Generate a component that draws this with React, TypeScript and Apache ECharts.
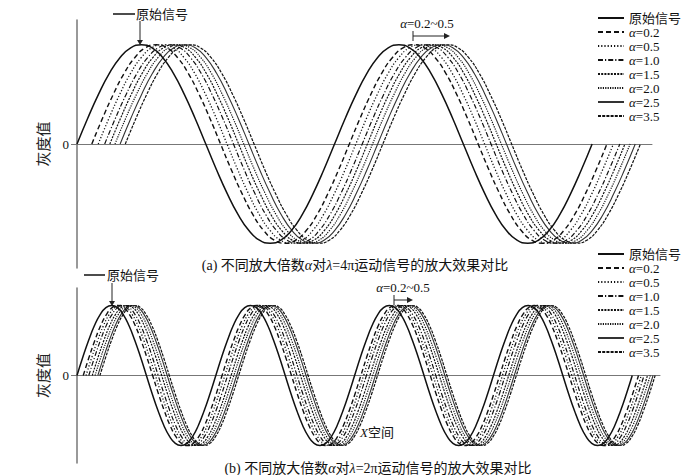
import React, { useEffect, useRef } from "react";
import * as echarts from "echarts";

// ---- data ----
const seriesNames = ["原始信号", "α=0.2", "α=0.5", "α=1.0", "α=1.5", "α=2.0", "α=2.5", "α=3.5"];
// one period of the grey-level waveform (24 samples)
const waveShape = [
  0, 0.26, 0.5, 0.71, 0.87, 0.97, 1, 0.97, 0.87, 0.71, 0.5, 0.26,
  0, -0.26, -0.5, -0.71, -0.87, -0.97, -1, -0.97, -0.87, -0.71, -0.5, -0.26,
];
// x in units of π
const topPeriod = 4; // λ = 4π
const topCycles = 2;
const bottomPeriod = 2; // λ = 2π
const bottomCycles = 4;
// horizontal displacement of each magnified curve (units of π)
const topShifts = [0, 0.23, 0.33, 0.43, 0.51, 0.59, 0.67, 0.75];
const bottomShifts = [0, 0.09, 0.13, 0.17, 0.22, 0.26, 0.3, 0.33];
const yTicks = [0];

const FONT = "'Liberation Serif', 'Times New Roman', 'Noto Sans CJK SC', serif";

const lineStyles: any[] = [
  { type: "solid", width: 1.5, color: "#111" },
  { type: [5, 3], width: 1.4, color: "#111" },
  { type: [1.2, 2], width: 1.3, color: "#111" },
  { type: [5, 2, 1.2, 2], width: 1.2, color: "#111" },
  { type: [2, 1.2], width: 1.2, color: "#111" },
  { type: [1.2, 1.2], width: 1.2, color: "#111" },
  { type: "solid", width: 1.1, color: "#333" },
  { type: [3, 1.2], width: 1.2, color: "#111" },
];

function buildCurve(shift: number, period: number, cycles: number) {
  const pts: number[][] = [];
  const n = waveShape.length;
  for (let c = 0; c < cycles; c++) {
    for (let k = 0; k < n; k++) {
      pts.push([shift + c * period + (k * period) / n, waveShape[k]]);
    }
  }
  pts.push([shift + cycles * period, waveShape[0]]);
  return pts;
}

const legendFormatter = (name: string) =>
  name.startsWith("α") ? `{i|α}{n|${name.slice(1)}}` : `{n|${name}}`;

const richText = {
  i: { fontStyle: "italic", fontSize: 13, fontFamily: FONT, color: "#111", lineHeight: 14 },
  n: { fontSize: 13, fontFamily: FONT, color: "#111", lineHeight: 14 },
};

function makeLegend(top: number) {
  return {
    orient: "vertical",
    left: 592,
    top,
    itemWidth: 26,
    itemHeight: 14,
    itemGap: 0,
    selectedMode: false,
    data: seriesNames,
    formatter: legendFormatter,
    itemStyle: { opacity: 0, borderWidth: 0 },
    textStyle: { fontSize: 13, fontFamily: FONT, color: "#111", lineHeight: 14, rich: richText },
  };
}

function makeYAxis(gridIndex: number) {
  return {
    type: "value",
    gridIndex,
    min: -1.25,
    max: 1.25,
    interval: 1.25,
    name: "灰度值",
    nameLocation: "middle",
    nameGap: 12,
    nameTextStyle: { fontFamily: FONT, fontSize: 15, color: "#222" },
    axisLine: { show: true, lineStyle: { color: "#777", width: 1.5 } },
    axisTick: { show: true, length: 6, customValues: yTicks, lineStyle: { color: "#777" } },
    axisLabel: { show: true, customValues: yTicks, fontFamily: FONT, fontSize: 13, color: "#111", margin: 8 },
    splitLine: { show: false },
  };
}

function makeXAxis(gridIndex: number, max: number) {
  return {
    type: "value",
    gridIndex,
    min: 0,
    max,
    axisLine: { show: true, onZero: true, lineStyle: { color: "#777", width: 1 } },
    axisTick: { show: false },
    axisLabel: { show: false },
    splitLine: { show: false },
  };
}

function arrowDown(x: number, y1: number, y2: number) {
  return [
    { type: "line", shape: { x1: x, y1, x2: x, y2: y2 - 4 }, style: { stroke: "#222", lineWidth: 1 } },
    { type: "polygon", shape: { points: [[x - 3, y2 - 5], [x + 3, y2 - 5], [x, y2]] }, style: { fill: "#222" } },
  ];
}

function rangeArrow(x1: number, x2: number, y: number) {
  return [
    { type: "line", shape: { x1, y1: y - 5, x2: x1, y2: y + 5 }, style: { stroke: "#222", lineWidth: 1 } },
    { type: "line", shape: { x1, y1: y, x2: x2 - 4, y2: y }, style: { stroke: "#222", lineWidth: 1 } },
    { type: "polygon", shape: { points: [[x2 - 6, y - 3], [x2 - 6, y + 3], [x2, y]] }, style: { fill: "#222" } },
  ];
}

function textEl(x: number, y: number, text: string, align: string, fontSize = 13) {
  return {
    type: "text",
    x,
    y,
    style: {
      text,
      align,
      verticalAlign: "middle",
      fontFamily: FONT,
      fontSize,
      fill: "#111",
      rich: {
        i: { fontStyle: "italic", fontSize, fontFamily: FONT, fill: "#111" },
        n: { fontSize, fontFamily: FONT, fill: "#111" },
      },
    },
  };
}

export default function App() {
  const ref = useRef<HTMLDivElement>(null);
  useEffect(() => {
    if (!ref.current) return;
    const chart = echarts.init(ref.current, null, { renderer: "svg" });

    const series: any[] = [];
    const addSeries = (axis: number, shifts: number[], period: number, cycles: number) => {
      seriesNames.forEach((name, i) => {
        series.push({
          name,
          type: "line",
          xAxisIndex: axis,
          yAxisIndex: axis,
          data: buildCurve(shifts[i], period, cycles),
          symbol: "none",
          showSymbol: false,
          smooth: true,
          silent: true,
          lineStyle: lineStyles[i],
          itemStyle: { color: lineStyles[i].color, opacity: 0 },
          z: 10 - i,
        });
      });
    };
    addSeries(0, topShifts, topPeriod, topCycles);
    addSeries(1, bottomShifts, bottomPeriod, bottomCycles);

    const graphic: any[] = [
      // top panel annotations
      { type: "line", shape: { x1: 113, y1: 14, x2: 135, y2: 14 }, style: { stroke: "#111", lineWidth: 1.5 } },
      textEl(136, 14, "原始信号", "left"),
      ...arrowDown(140, 21, 45),
      textEl(427, 23, "{i|α}{n|=0.2~0.5}", "center"),
      ...rangeArrow(413, 450, 36),
      textEl(355, 265, "{n|(a) 不同放大倍数}{i|α}{n|对}{i|λ}{n|=4π运动信号的放大效果对比}", "center", 14),
      // bottom panel annotations
      { type: "line", shape: { x1: 84, y1: 275, x2: 105, y2: 275 }, style: { stroke: "#111", lineWidth: 1.5 } },
      textEl(107, 275, "原始信号", "left"),
      ...arrowDown(112, 283, 306),
      textEl(403, 287, "{i|α}{n|=0.2~0.5}", "center"),
      ...rangeArrow(394, 413, 300),
      textEl(360, 432, "{i|X}{n|空间}", "left"),
      textEl(378, 468, "{n|(b) 不同放大倍数}{i|α}{n|对}{i|λ}{n|=2π运动信号的放大效果对比}", "center", 14),
    ];

    chart.setOption({
      animation: false,
      backgroundColor: "#fff",
      grid: [
        { left: 77, top: 20, width: 575, height: 248 },
        { left: 77, top: 288, width: 583, height: 175 },
      ],
      xAxis: [makeXAxis(0, 8.93), makeXAxis(1, 8.4)],
      yAxis: [makeYAxis(0), makeYAxis(1)],
      legend: [makeLegend(6), makeLegend(242)],
      series,
      graphic,
    });
    return () => chart.dispose();
  }, []);
  return (
    <div
      ref={ref}
      style={{ position: "fixed", left: 0, top: 0, width: 700, height: 475, background: "#fff" }}
    />
  );
}
